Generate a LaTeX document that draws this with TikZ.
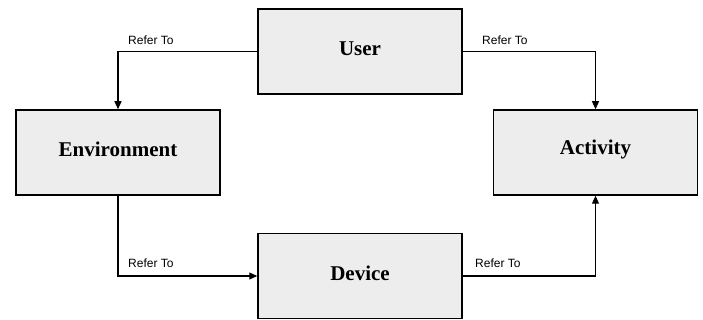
\documentclass[tikz,border=0pt]{standalone}
\usepackage{fontspec}
\setmainfont{Liberation Serif}
\newfontfamily\lblfont{Liberation Sans}
\usetikzlibrary{arrows.meta}
\begin{document}
\begin{tikzpicture}[x=1pt,y=-1pt,
  box/.style={draw=black,line width=1.5pt,fill=boxgray,minimum width=204pt,minimum height=85pt,inner sep=0pt},
  boxtext/.style={font=\fontsize{21}{24}\selectfont\bfseries,inner sep=0pt},
  conn/.style={draw=black,line width=1.1pt,-{Triangle[length=8pt,width=7pt]}},
  lbl/.style={font=\lblfont\fontsize{12}{14}\selectfont,inner sep=0pt,anchor=west}]
\definecolor{boxgray}{HTML}{EDEDED}
\useasboundingbox (0,0) rectangle (703,320);
\node[box] (user) at (360,51.5) {};
\node[box] (env) at (118,152.5) {};
\node[box] (act) at (595.5,152.5) {};
\node[box] (dev) at (360,276) {};
\node[boxtext] (tuser) at ([yshift=3pt]user.center) {User};
\node[boxtext] (tenv) at ([yshift=3pt]env.center) {Environment};
\node[boxtext] (tact) at ([yshift=3pt]act.center) {Activity};
\node[boxtext] (tdev) at ([yshift=3pt]dev.center) {Device};
\draw[conn] (user.west) -| (env.north);
\draw[conn] (user.east) -| (act.north);
\draw[conn] (env.south) |- (dev.west);
\draw[conn] (dev.east) -| (act.south);
\node[lbl] (l1) at (128,40) {Refer To};
\node[lbl] (l2) at (482,40) {Refer To};
\node[lbl] (l3) at (128,263) {Refer To};
\node[lbl] (l4) at (475,263) {Refer To};
\end{tikzpicture}
\end{document}
